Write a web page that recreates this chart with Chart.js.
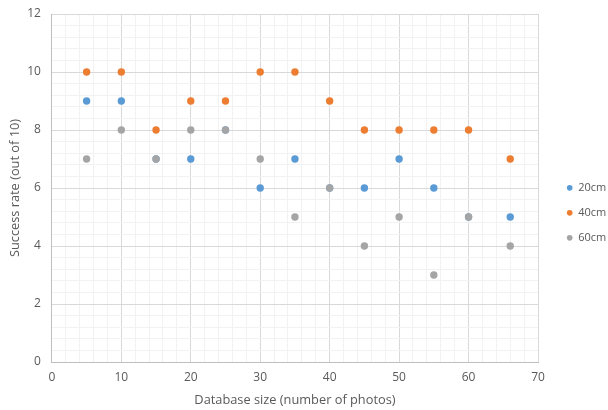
<!DOCTYPE html>
<html>
<head>
<meta charset="utf-8">
<script src="https://cdn.jsdelivr.net/npm/chart.js@4"></script>
<style>
  html, body { margin: 0; padding: 0; background: #ffffff; }
  #wrap { width: 608px; height: 410px; position: relative; }
</style>
</head>
<body>
<div id="wrap"><canvas id="c" width="608" height="410"></canvas></div>
<script>
const databaseSizes = [5, 10, 15, 20, 25, 30, 35, 40, 45, 50, 55, 60, 66];
const rate20cm = [9, 9, 7, 7, 8, 6, 7, 6, 6, 7, 6, 5, 5];
const rate40cm = [10, 10, 8, 9, 9, 10, 10, 9, 8, 8, 8, 8, 7];
const rate60cm = [7, 8, 7, 8, 8, 7, 5, 6, 4, 5, 3, 5, 4];
const seriesNames = ['20cm', '40cm', '60cm'];
const xTitle = 'Database size (number of photos)';
const yTitle = 'Success rate (out of 10)';

const colors = ['#5B9BD5', '#ED7D31', '#A5A5A5'];
const toPoints = arr => databaseSizes.map((x, i) => ({ x: x, y: arr[i] }));
const allSeries = [rate20cm, rate40cm, rate60cm];

const textColor = '#595959';
const fontFamily = "'Open Sans', 'Liberation Sans', sans-serif";
const isMult = (v, m) => Math.abs(v / m - Math.round(v / m)) < 1e-6;

new Chart(document.getElementById('c'), {
  type: 'scatter',
  data: {
    datasets: allSeries.map((arr, i) => ({
      label: seriesNames[i],
      data: toPoints(arr),
      backgroundColor: colors[i],
      borderColor: colors[i],
      borderWidth: 0,
      pointRadius: 3.7,
      pointHoverRadius: 3.7,
      order: allSeries.length - 1 - i
    }))
  },
  options: {
    responsive: false,
    animation: false,
    devicePixelRatio: 1,
    layout: { padding: { left: 7.3, right: 0, top: 14, bottom: 2.2 } },
    plugins: {
      tooltip: { enabled: false },
      legend: {
        position: 'right',
        maxWidth: 55.3,
        title: { display: true, text: ' ', padding: 0, font: { size: 3.2 } },
        labels: {
          usePointStyle: true,
          pointStyle: 'circle',
          boxWidth: 6,
          boxHeight: 4,
          padding: 14,
          color: textColor,
          font: { family: fontFamily, size: 11 },
          sort: (a, b) => a.datasetIndex - b.datasetIndex
        }
      }
    },
    scales: {
      x: {
        type: 'linear',
        min: 0, max: 70,
        ticks: {
          stepSize: 2,
          autoSkip: false,
          maxRotation: 0,
          color: textColor,
          font: { family: fontFamily, size: 12 },
          padding: 8,
          callback: v => isMult(v, 10) ? String(Math.round(v)) : ''
        },
        grid: {
          drawTicks: false,
          color: ctx => isMult(ctx.tick.value, 10) ? '#D9D9D9' : '#F2F2F2',
          lineWidth: 1
        },
        border: { color: '#BFBFBF', width: 1 },
        title: {
          display: true,
          text: xTitle,
          color: textColor,
          font: { family: fontFamily, size: 12.8 },
          padding: { top: 0, bottom: 0 }
        }
      },
      y: {
        type: 'linear',
        min: 0, max: 12,
        ticks: {
          stepSize: 0.4,
          autoSkip: false,
          color: textColor,
          font: { family: fontFamily, size: 12 },
          padding: 11,
          callback: v => isMult(v, 2) ? String(Math.round(v)) : ''
        },
        grid: {
          drawTicks: false,
          color: ctx => isMult(ctx.tick.value, 2) ? '#D9D9D9' : '#F2F2F2',
          lineWidth: 1
        },
        border: { color: '#BFBFBF', width: 1 },
        title: {
          display: true,
          text: yTitle,
          color: textColor,
          font: { family: fontFamily, size: 12.8 },
          padding: { top: 0, bottom: -6.5 }
        },
        afterFit: scale => { scale.paddingTop = 7; scale.paddingBottom = 7; }
      },
      legendGap: {
        type: 'linear',
        position: 'right',
        display: true,
        grid: { display: false, drawTicks: false },
        border: { display: false },
        ticks: { display: false },
        afterFit: scale => { scale.width = 14.7; }
      }
    }
  }
});
</script>
</body>
</html>
